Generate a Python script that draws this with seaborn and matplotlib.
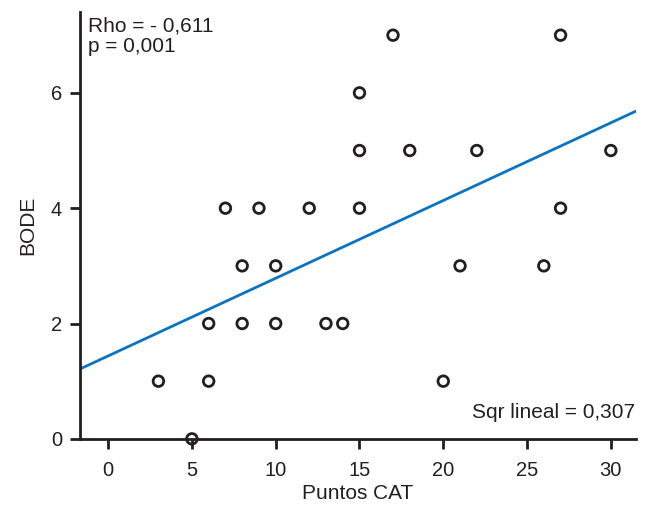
import matplotlib
matplotlib.use("Agg")
import matplotlib.pyplot as plt
import seaborn as sns
import pandas as pd

puntos_cat = [3, 5, 6, 6, 7, 8, 8, 9, 10, 10, 12, 13, 14, 15, 15, 15, 17, 18, 20, 21, 22, 26, 27, 27, 30]
bode =       [1, 0, 2, 1, 4, 3, 2, 4, 3, 2, 4, 2, 2, 6, 5, 4, 7, 5, 1, 3, 5, 3, 7, 4, 5]
x_ticks = [0, 5, 10, 15, 20, 25, 30]
y_ticks = [0, 2, 4, 6]

df = pd.DataFrame({"Puntos CAT": puntos_cat, "BODE": bode})

sns.set_style("ticks")
plt.rcParams["font.family"] = ["Liberation Sans", "DejaVu Sans"]

TXT = "#231f20"
fig = plt.figure(figsize=(6.57, 5.05), dpi=100)
ax = fig.add_axes([0.122, 0.131, 0.846, 0.845])
ax.set_xlim(-1.67, 31.5)
ax.set_ylim(0, 7.4)

sns.regplot(data=df, x="Puntos CAT", y="BODE", ax=ax, scatter=False, ci=None,
            truncate=False, color="#0a74c2", line_kws={"linewidth": 2})
sns.scatterplot(data=df, x="Puntos CAT", y="BODE", ax=ax, marker="o", s=58,
                facecolor="none", edgecolor=TXT, linewidth=2, clip_on=False, zorder=5)

ax.set_xlim(-1.67, 31.5)
ax.set_ylim(0, 7.4)
ax.set_xticks(x_ticks)
ax.set_yticks(y_ticks)
sns.despine(ax=ax)
for s in ["left", "bottom"]:
    ax.spines[s].set_linewidth(2)
    ax.spines[s].set_color(TXT)
ax.tick_params(axis="both", length=7, width=2, color=TXT, labelsize=14.5, labelcolor=TXT)
ax.tick_params(axis="y", pad=6)
ax.tick_params(axis="x", pad=9)
ax.set_xlabel("Puntos CAT", fontsize=15, color=TXT, labelpad=3)
ax.set_ylabel("BODE", fontsize=15, color=TXT, labelpad=10)

ax.text(0.014, 0.99, "Rho = - 0,611\np = 0,001", transform=ax.transAxes, ha="left", va="top",
        fontsize=15, color=TXT, linespacing=1.1)
ax.text(0.998, 0.04, "Sqr lineal = 0,307", transform=ax.transAxes, ha="right", va="bottom",
        fontsize=15, color=TXT)

fig.savefig("out.png", dpi=100)
